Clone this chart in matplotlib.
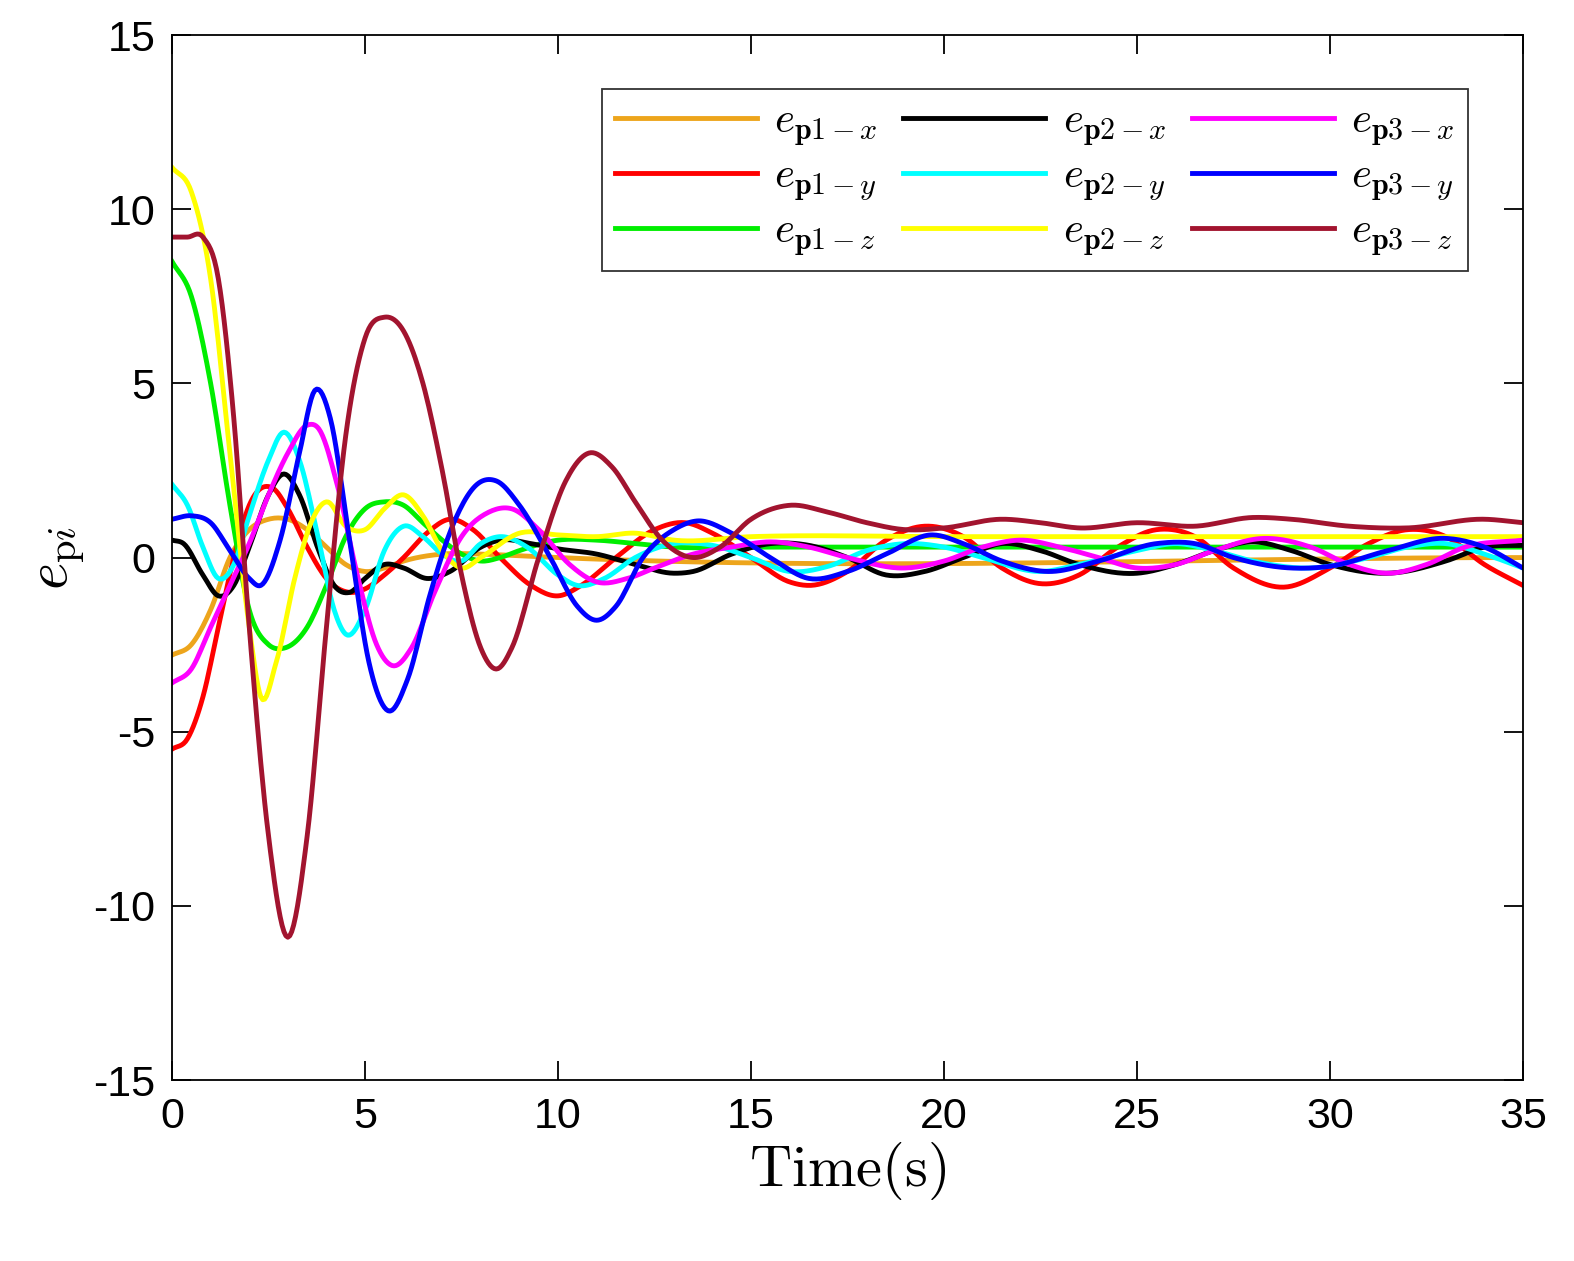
import numpy as np
import matplotlib
matplotlib.use("Agg")
import matplotlib.pyplot as plt

plt.rcParams['mathtext.fontset'] = 'cm'
plt.rcParams['font.family'] = 'Liberation Sans'
plt.rcParams['axes.unicode_minus'] = False

# (time, value) readings per series
p1x_t = [0,0.5,1,1.5,2,2.5,3,3.5,4,4.5,5,5.5,6,7,8,9,10,35]
p1x_v = [-2.8,-2.5,-1.5,0,0.8,1.1,1.1,0.8,0.3,-0.2,-0.4,-0.3,-0.1,0.1,0.1,0.05,0,0]
p1y_t = [0,0.4,0.8,1.2,1.6,2,2.6,3,3.5,4,4.6,5,5.5,6,6.6,7.2,7.8,8.5,9.3,10,10.6,11.5,12.5,13.3,14,15,16,16.5,17.5,18.5,19.5,20.5,21.5,22.5,23.5,24.5,25.5,26.5,27.5,28.8,30,31,32,33,34,35]
p1y_v = [-5.5,-5.2,-4,-2,0,1.5,2,1.4,0.3,-0.6,-1.0,-0.9,-0.5,0,0.7,1.1,0.8,0.0,-0.8,-1.1,-0.8,0,0.8,1.0,0.7,0,-0.7,-0.8,-0.4,0.5,0.9,0.6,-0.3,-0.75,-0.5,0.3,0.8,0.6,-0.3,-0.85,-0.3,0.4,0.8,0.6,-0.2,-0.8]
p1z_t = [0,0.5,1,1.5,2,2.5,2.9,3.5,4,4.5,5,5.5,6,6.5,7,7.5,8,8.5,9,10,11,12,13,15,35]
p1z_v = [8.5,7.5,5,1.5,-1.5,-2.5,-2.6,-2,-0.8,0.6,1.4,1.6,1.5,1,0.5,0.1,-0.1,0.0,0.2,0.5,0.5,0.4,0.3,0.3,0.3]
p2x_t = [0,0.3,0.8,1.2,1.6,2,2.5,2.9,3.3,3.8,4.2,4.6,5,5.5,6,6.6,7.2,8,8.5,9.3,10,11,12,13,13.5,14.5,15.5,16.5,17.5,18.5,19.5,20.5,21.5,22.5,23.5,25,26,27,28,29,30,31.5,33,34,35]
p2x_v = [0.5,0.4,-0.5,-1.1,-0.8,0.3,1.8,2.4,1.8,0.2,-0.8,-1.0,-0.6,-0.2,-0.3,-0.6,-0.4,0.3,0.5,0.4,0.25,0.1,-0.2,-0.45,-0.4,0.1,0.4,0.35,0,-0.5,-0.4,0,0.4,0.2,-0.2,-0.45,-0.2,0.2,0.45,0.2,-0.2,-0.45,-0.1,0.3,0.35]
p2y_t = [0,0.4,0.8,1.2,1.6,2,2.5,2.9,3.3,3.8,4.2,4.5,5,5.5,6,6.5,7,7.5,8,8.5,9.2,10,10.5,11.2,12,13,14,15,16,17,18,19,20,21,22.5,23.5,25,26,27,28,29.5,31,32,33,34,35]
p2y_v = [2.1,1.5,0.3,-0.6,-0.2,1.2,2.8,3.6,2.8,0.5,-1.5,-2.2,-1.5,0.2,0.9,0.6,0.1,-0.1,0.4,0.6,0.3,-0.5,-0.8,-0.6,0,0.4,0.35,0,-0.4,-0.25,0.2,0.4,0.3,0,-0.4,-0.2,0.2,0.4,0.2,-0.1,-0.3,0,0.3,0.4,0.1,-0.3]
p2z_t = [0,0.5,1,1.5,2,2.3,2.7,3.2,3.6,4,4.5,5,5.5,6,6.5,7,7.5,8,9,10,11,12,13,15,20,35]
p2z_v = [11.2,10.5,8,3,-2,-4,-3,-0.5,1.0,1.6,0.9,0.8,1.4,1.8,1.2,0.2,-0.3,0,0.7,0.65,0.6,0.7,0.5,0.6,0.6,0.6]
p3x_t = [0,0.5,1,1.5,2,2.5,3,3.5,3.8,4.3,4.8,5.3,5.7,6.2,6.8,7.5,8.2,8.8,9.5,10.3,11,11.8,12.5,13.5,14.5,15.5,16.5,17.5,19,20,21,22,23,24,25,26,27,28.3,29.5,30.5,31.5,32.5,33.5,35]
p3x_v = [-3.6,-3.2,-2,-0.8,0.4,1.8,3.0,3.8,3.7,2,-0.5,-2.5,-3.1,-2.6,-1,0.6,1.3,1.4,0.8,-0.2,-0.7,-0.6,-0.3,0.1,0.3,0.45,0.3,0,-0.3,-0.1,0.3,0.5,0.3,0,-0.3,-0.2,0.2,0.55,0.3,-0.2,-0.45,-0.2,0.3,0.5]
p3y_t = [0,0.5,1,1.5,2,2.3,2.8,3.3,3.7,4.1,4.6,5.1,5.6,6.1,6.7,7.3,7.9,8.4,9,9.8,10.5,11,11.5,12.2,13,13.6,14.5,15.5,16.5,17.5,18.5,19.7,20.5,21.5,22.7,24,25.5,26.5,27.5,29,30,31.5,33,34,35]
p3y_v = [1.1,1.2,1.0,0.2,-0.6,-0.8,0.5,3,4.8,4.0,0.5,-3,-4.4,-3.5,-1,1,2.1,2.2,1.5,0,-1.4,-1.8,-1.4,0,0.8,1.05,0.7,0,-0.6,-0.4,0.1,0.65,0.4,-0.1,-0.4,-0.1,0.4,0.4,0,-0.3,-0.25,0.2,0.55,0.3,-0.3]
p3z_t = [0,0.4,0.8,1.2,1.6,2.0,2.5,3.0,3.5,4,4.5,5,5.5,6,6.5,7,7.5,8,8.4,8.8,9.5,10.2,10.8,11.4,12,12.7,13.5,14.2,15,16,17,18,19,20,21.5,22.5,23.5,25,26.5,28,29,30.5,32,34,35]
p3z_v = [9.2,9.2,9.2,8,4,-2,-8,-10.9,-8,-2,3.5,6.3,6.9,6.5,5,2.5,-0.5,-2.6,-3.2,-2.6,0,2.2,3.0,2.6,1.6,0.5,0.0,0.3,1.1,1.5,1.3,1.0,0.8,0.85,1.1,1.0,0.85,1.0,0.9,1.15,1.1,0.9,0.85,1.1,1.0]

series = [
    (p1x_t, p1x_v, '#EDA51C', r'$e_{\mathbf{p1}-x}$'),
    (p1y_t, p1y_v, '#FF0000', r'$e_{\mathbf{p1}-y}$'),
    (p1z_t, p1z_v, '#00EE00', r'$e_{\mathbf{p1}-z}$'),
    (p2x_t, p2x_v, '#000000', r'$e_{\mathbf{p2}-x}$'),
    (p2y_t, p2y_v, '#00FFFF', r'$e_{\mathbf{p2}-y}$'),
    (p2z_t, p2z_v, '#FFFF00', r'$e_{\mathbf{p2}-z}$'),
    (p3x_t, p3x_v, '#FF00FF', r'$e_{\mathbf{p3}-x}$'),
    (p3y_t, p3y_v, '#0000FF', r'$e_{\mathbf{p3}-y}$'),
    (p3z_t, p3z_v, '#A2142F', r'$e_{\mathbf{p3}-z}$'),
]

def smooth(t, v, n=8):
    t = np.asarray(t, float); v = np.asarray(v, float)
    m = np.gradient(v, t)
    xs, ys = [], []
    for i in range(len(t) - 1):
        h = t[i+1] - t[i]
        s = np.linspace(0, 1, max(n, int(h * 20)), endpoint=False)
        h00 = 2*s**3 - 3*s**2 + 1; h10 = s**3 - 2*s**2 + s
        h01 = -2*s**3 + 3*s**2; h11 = s**3 - s**2
        xs.append(t[i] + s*h)
        ys.append(h00*v[i] + h10*h*m[i] + h01*v[i+1] + h11*h*m[i+1])
    xs.append([t[-1]]); ys.append([v[-1]])
    return np.concatenate(xs), np.concatenate(ys)

fig = plt.figure(figsize=(15.74, 12.61), dpi=100)
ax = fig.add_axes([0.1093, 0.1435, 0.8583, 0.8287])
for t, v, c, lab in series:
    x, y = smooth(t, v)
    ax.plot(x, y, color=c, lw=3.5, label=lab)

ax.set_xlim(0, 35); ax.set_ylim(-15, 15)
ax.set_xticks(range(0, 36, 5)); ax.set_yticks(range(-15, 16, 5))
ax.tick_params(direction='in', labelsize=31, length=14, width=1.3, top=True, right=True, pad=12)
for s in ax.spines.values(): s.set_linewidth(1.3)
ax.set_xlabel(r'$\mathrm{Time(s)}$', fontsize=42, labelpad=2)
ax.set_ylabel(r'$e_{\mathrm{p}i}$', fontsize=42, labelpad=4)
leg = ax.legend(ncol=3, loc='upper right', bbox_to_anchor=(0.975, 0.969), fontsize=31,
                frameon=True, fancybox=False, edgecolor='black', handlelength=3.3,
                handletextpad=0.4, columnspacing=0.6, labelspacing=0.2, borderpad=0.3)
leg.get_frame().set_linewidth(1.3)
fig.savefig('out.png', dpi=100)
